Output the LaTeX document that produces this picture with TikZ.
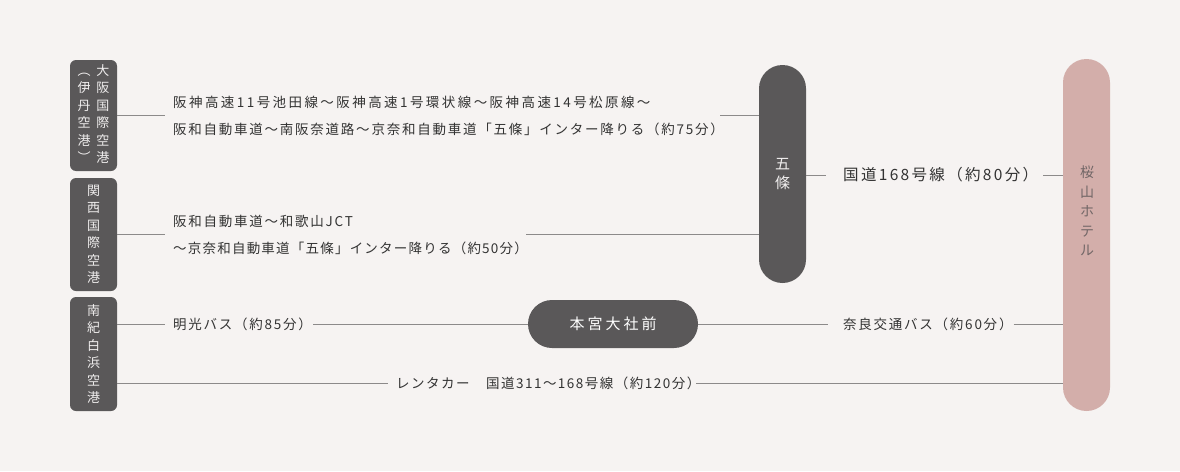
\documentclass[tikz,border=0pt]{standalone}
\usepackage{fontspec}
\setmainfont{Noto Sans CJK JP}
\newfontfamily\rtf[LetterSpace=13]{Noto Sans CJK JP}
\newfontfamily\rtfw[LetterSpace=18]{Noto Sans CJK JP}
\newfontfamily\rtfn[LetterSpace=9]{Noto Sans CJK JP}
\newfontfamily\rtfm[LetterSpace=11]{Noto Sans CJK JP}
\newfontfamily\bigf[LetterSpace=15]{Noto Sans CJK JP}
\newfontfamily\hgf[LetterSpace=20]{Noto Sans CJK JP}
\definecolor{bg}{HTML}{F6F3F2}
\definecolor{dark}{HTML}{5A5859}
\definecolor{pink}{HTML}{D3AEAA}
\definecolor{linec}{HTML}{8C8A8A}
\definecolor{txt}{HTML}{333333}
\definecolor{boxtxt}{HTML}{F0EEEE}
\definecolor{sktxt}{HTML}{716666}
\tikzset{
  apbox/.style={fill=dark, rounded corners=6pt, minimum width=47pt, inner sep=0pt,
    text=boxtxt, align=center, font=\fontsize{13}{17.5}\selectfont},
  pill/.style={fill=#1, inner sep=0pt},
  route/.style={anchor=west, inner xsep=8pt, inner ysep=1pt, text=txt, align=left,
    font=\rtf\fontsize{13.5}{27}\selectfont},
  conn/.style={draw=linec, line width=0.9pt}
}
\begin{document}
\begin{tikzpicture}[x=1pt,y=-1pt]
\useasboundingbox[fill=bg] (0,0) rectangle (1180,471);
% airports
\node[apbox, minimum height=111pt] (o1) at (93.5,115.5)
  {\begin{tabular}{@{}c@{\hspace{6pt}}c@{}}︵&大\\伊&阪\\丹&国\\空&際\\港&空\\︶&港\end{tabular}};
\node[apbox, minimum height=113pt] (o2) at (93.5,234.5) {関\\西\\国\\際\\空\\港};
\node[apbox, minimum height=114pt] (o3) at (93.5,354) {南\\紀\\白\\浜\\空\\港};
% hubs
\node[pill=dark, minimum width=47pt, minimum height=218pt, rounded corners=23.5pt,
  text=boxtxt, align=center, font=\fontsize{15}{19}\selectfont] (gojo) at (782.5,174) {五\\條};
\node[pill=pink, minimum width=47pt, minimum height=352pt, rounded corners=23.5pt] (sakura) at (1086.5,235) {};
\node[text=sktxt, align=center, inner sep=0pt, font=\fontsize{14}{19.5}\selectfont] (sktext) at (1087,211) {桜\\山\\ホ\\テ\\ル};
\node[pill=dark, minimum width=170pt, minimum height=48pt, rounded corners=24pt,
  text=white, font=\hgf\fontsize{15}{18}\selectfont] (hongu) at (613,324) {本宮大社前};
% routes
\node[route] (r1) at (165,115.5)
  {{\rtfw 阪神高速11号池田線～阪神高速1号環状線～阪神高速14号松原線～}\\
   阪和自動車道～南阪奈道路～京奈和自動車道「五條」インター降りる（約75分）};
\node[route] (r2) at (165,234.5)
  {阪和自動車道～和歌山JCT\\{\rtfn ～京奈和自動車道「五條」インター降りる（約50分）}};
\node[route, inner xsep=17pt, font=\bigf\fontsize{15.5}{20}\selectfont] (r5) at (826,175) {国道168号線（約80分）};
\node[route] (m3) at (165,324) {明光バス（約85分）};
\node[route, inner xsep=15pt] (nara) at (828,324) {奈良交通バス（約60分）};
\node[route, font=\rtfm\fontsize{13.5}{27}\selectfont] (rent) at (388,383) {レンタカー　国道311～168号線（約120分）};
% connectors
\draw[conn] (o1.east) -- (r1.west);
\draw[conn, shorten <=-12pt] (r1.east) -- (r1.east -| gojo.west);
\draw[conn] (o2.east) -- (r2.west);
\draw[conn, shorten <=-10pt] (r2.east) -- (r2.east -| gojo.west);
\draw[conn] (gojo.east |- r5.west) -- (r5.west);
\draw[conn, shorten <=-12pt] (r5.east) -- (r5.east -| sakura.west);
\draw[conn] (o3.east |- m3.west) -- (m3.west);
\draw[conn, shorten <=-7pt] (m3.east) -- (hongu.west);
\draw[conn] (hongu.east) -- (nara.west);
\draw[conn, shorten <=-14pt] (nara.east) -- (nara.east -| sakura.west);
\draw[conn] (o3.east |- rent.west) -- (rent.west);
\draw[conn, shorten <=-12pt] (rent.east) -- (rent.east -| sakura.west);
\end{tikzpicture}
\end{document}
